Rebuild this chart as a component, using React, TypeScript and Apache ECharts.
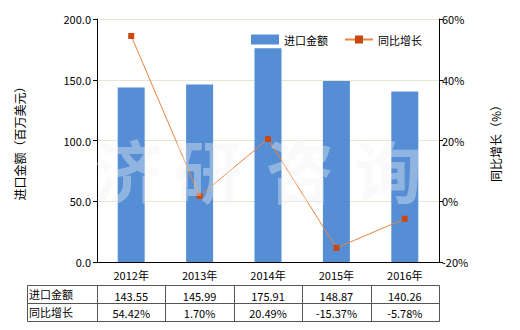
import React, { useEffect, useRef } from "react";
import * as echarts from "echarts";

const categories = ["2012年", "2013年", "2014年", "2015年", "2016年"];
const importValues = [143.55, 145.99, 175.91, 148.87, 140.26];
const growthValues = [54.42, 1.7, 20.49, -15.37, -5.78];
const importLabels = ["143.55", "145.99", "175.91", "148.87", "140.26"];
const growthLabels = ["54.42%", "1.70%", "20.49%", "-15.37%", "-5.78%"];
const seriesNames = ["进口金额", "同比增长"];
const watermarkChars = ["济", "研", "咨", "询"];

const FONT = "'Noto Sans CJK SC', 'Microsoft YaHei', sans-serif";

export default function App() {
  const ref = useRef<HTMLDivElement>(null);
  useEffect(() => {
    if (!ref.current) return;
    const chart = echarts.init(ref.current, undefined, { renderer: "svg" });
    const gridLeft = 97;
    const gridRight = 439;
    const colW = (gridRight - gridLeft) / categories.length;
    const tLeft = 27;
    const tTop = 285;
    const tMid = 303;
    const tBot = 321;
    const tableEls: any[] = [];
    const stroke = { stroke: "#555", lineWidth: 1 };
    tableEls.push({ type: "rect", shape: { x: tLeft + 0.5, y: tTop + 0.5, width: gridRight - tLeft, height: tBot - tTop }, style: { fill: "none", ...stroke } });
    tableEls.push({ type: "line", shape: { x1: tLeft, y1: tMid + 0.5, x2: gridRight, y2: tMid + 0.5 }, style: stroke });
    for (let i = 0; i < categories.length; i++) {
      const x = Math.round(gridLeft + colW * i) + 0.5;
      tableEls.push({ type: "line", shape: { x1: x, y1: tTop, x2: x, y2: tBot }, style: stroke });
      const cx = gridLeft + colW * (i + 0.5);
      tableEls.push({ type: "text", x: cx, y: (tTop + tMid) / 2 + 2, style: { text: importLabels[i], align: "center", verticalAlign: "middle", fill: "#000", font: `11px ${FONT}` } });
      tableEls.push({ type: "text", x: cx, y: (tMid + tBot) / 2 + 1, style: { text: growthLabels[i], align: "center", verticalAlign: "middle", fill: "#000", font: `11px ${FONT}` } });
    }
    tableEls.push({ type: "text", x: tLeft + 2, y: (tTop + tMid) / 2, style: { text: seriesNames[0], align: "left", verticalAlign: "middle", fill: "#000", font: `11px ${FONT}` } });
    tableEls.push({ type: "text", x: tLeft + 2, y: (tMid + tBot) / 2, style: { text: seriesNames[1], align: "left", verticalAlign: "middle", fill: "#000", font: `11px ${FONT}` } });

    const wmX = [128, 208, 300, 388];
    const watermark = watermarkChars.map((c, i) => ({
      type: "text",
      x: wmX[i],
      y: 168,
      z: 100,
      style: { text: c, align: "center", verticalAlign: "middle", fill: "rgba(240,242,240,0.38)", font: `bold 68px ${FONT}` },
    }));

    chart.setOption({
      animation: false,
      textStyle: { fontFamily: FONT },
      grid: { left: gridLeft, right: 520 - gridRight, top: 19, bottom: 68, containLabel: false },
      legend: {
        left: 246,
        top: 29,
        itemWidth: 28,
        itemHeight: 10,
        itemGap: 16,
        textStyle: { fontSize: 11, color: "#000" },
        data: [
          { name: seriesNames[0], icon: "rect" },
          { name: seriesNames[1] },
        ],
      },
      xAxis: {
        type: "category",
        data: categories,
        axisLine: { lineStyle: { color: "#000" } },
        axisTick: { show: false },
        axisLabel: { color: "#000", fontSize: 11, margin: 7 },
      },
      yAxis: [
        {
          type: "value",
          min: 0,
          max: 200,
          interval: 50,
          name: "进口金额（百万美元）",
          nameLocation: "middle",
          nameGap: 72,
          nameTextStyle: { color: "#000", fontSize: 12 },
          axisLine: { show: true, lineStyle: { color: "#000" } },
          axisTick: { show: true, length: 4, lineStyle: { color: "#000" } },
          axisLabel: { color: "#000", fontSize: 11, formatter: (v: number) => v.toFixed(1), margin: 6 },
          splitLine: { lineStyle: { color: "#e6e6d6" } },
        },
        {
          type: "value",
          min: -20,
          max: 60,
          interval: 20,
          name: "同比增长（%）",
          nameLocation: "middle",
          nameRotate: 90,
          nameGap: 50,
          nameTextStyle: { color: "#000", fontSize: 12 },
          axisLine: { show: true, lineStyle: { color: "#000" } },
          axisTick: { show: true, length: 4, lineStyle: { color: "#000" } },
          axisLabel: { color: "#000", fontSize: 11, formatter: (v: number) => `${v}%`, margin: 3 },
          splitLine: { show: false },
        },
      ],
      series: [
        {
          name: seriesNames[0],
          type: "bar",
          data: importValues,
          barWidth: 27,
          itemStyle: { color: "#558ed5" },
        },
        {
          name: seriesNames[1],
          type: "line",
          yAxisIndex: 1,
          data: growthValues,
          symbol: "rect",
          symbolSize: 6,
          lineStyle: { color: "#e8843f", width: 1 },
          itemStyle: { color: "#c9480f" },
        },
      ],
      graphic: [...watermark, ...tableEls],
    });
    return () => chart.dispose();
  }, []);
  return <div ref={ref} style={{ width: 520, height: 330, position: "absolute", left: 0, top: 0 }} />;
}
